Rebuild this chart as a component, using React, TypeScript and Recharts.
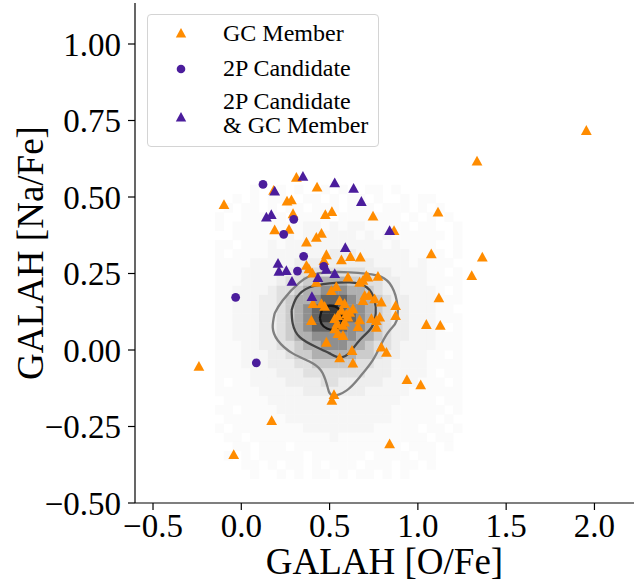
import { ScatterChart, Scatter, XAxis, YAxis } from "recharts";

const W = 635;
const H = 583;
const SERIF = '"Liberation Serif", "Times New Roman", serif';

const X_TICKS = [-0.5, 0, 0.5, 1, 1.5, 2];
const Y_TICKS = [-0.5, -0.25, 0, 0.25, 0.5, 0.75, 1];
const X_DOMAIN: [number, number] = [-0.602, 2.224];
const Y_DOMAIN: [number, number] = [-0.5, 1.134];

const ORANGE = "#ff8c00";
const PURPLE = "#4b1d9c";

// GC members (orange triangles)
const GC_MEMBER: [number, number][] = [
  [-0.098, 0.476], [0.312, 0.565], [0.429, 0.533], [0.183, 0.522], [0.259, 0.487],
  [0.284, 0.491], [0.293, 0.446], [0.476, 0.443], [0.513, 0.453], [0.746, 0.438],
  [0.189, 0.393], [0.27, 0.395], [0.865, 0.391], [0.369, 0.353], [0.425, 0.369],
  [0.454, 0.382], [0.567, 0.295], [0.618, 0.306], [0.674, 0.304], [0.482, 0.312],
  [0.468, 0.293], [0.369, 0.277], [0.383, 0.266], [0.403, 0.252],
  [1.954, 0.718], [1.335, 0.618], [1.114, 0.451], [1.076, 0.315], [1.365, 0.304],
  [1.305, 0.244], [1.119, 0.171], [1.048, 0.084], [1.127, 0.081], [0.938, -0.096],
  [1.016, -0.113], [0.84, -0.306],
  [-0.24, -0.053], [0.525, -0.145], [0.513, -0.164], [0.172, -0.23], [-0.043, -0.341],
  [0.604, 0.239], [0.708, 0.244], [0.717, 0.239], [0.774, 0.241], [0.67, 0.222],
  [0.689, 0.228], [0.425, 0.222], [0.51, 0.195], [0.538, 0.208], [0.406, 0.152],
  [0.454, 0.152], [0.472, 0.143], [0.557, 0.162], [0.585, 0.152], [0.689, 0.162],
  [0.699, 0.179], [0.723, 0.179], [0.755, 0.168], [0.793, 0.157], [0.874, 0.146],
  [0.874, 0.113], [0.784, 0.108], [0.765, 0.097], [0.737, 0.103], [0.632, 0.135],
  [0.614, 0.124], [0.567, 0.13], [0.547, 0.113], [0.595, 0.119], [0.604, 0.108],
  [0.529, 0.103], [0.542, 0.086], [0.585, 0.092], [0.576, 0.081], [0.67, 0.099],
  [0.661, 0.077], [0.765, 0.075], [0.397, 0.097], [0.529, 0.07], [0.547, 0.054],
  [0.576, 0.048], [0.482, 0.026], [0.793, 0.01], [0.822, -0.007], [0.627, -0.001],
  [0.557, -0.025], [0.632, -0.042],
];

// 2P candidates (purple circles)
const CANDIDATE_2P: [number, number][] = [
  [0.123, 0.541], [0.297, 0.427], [0.24, 0.378], [0.353, 0.306],
  [0.318, 0.258], [0.467, 0.273], [-0.032, 0.172], [0.085, -0.042],
];

// 2P candidates that are also GC members (purple triangles)
const CANDIDATE_GC: [number, number][] = [
  [0.349, 0.568], [0.189, 0.52], [0.529, 0.547], [0.636, 0.529], [0.68, 0.486],
  [0.142, 0.435], [0.17, 0.443], [0.84, 0.391], [0.589, 0.335], [0.208, 0.284],
  [0.213, 0.258], [0.255, 0.26], [0.287, 0.225], [0.434, 0.237], [0.482, 0.264],
  [0.529, 0.25], [0.4, 0.175],
];

// background 2D histogram (grey level 0-9 per bin), rows from top to bottom
const HIST_X0 = -0.15;
const HIST_DX = 0.05;
const HIST_Y0 = 0.54;
const HIST_DY = 0.03;
const HIST_ROWS = [
  "0000100101001010011010000000",
  "0010101100110101101001011000",
  "0101101011011101110111010100",
  "1001111101111011111110101010",
  "1011111111221212211111011001",
  "0011111121222222121211111101",
  "1101112122222222222121111001",
  "1011112222222333222222111101",
  "1111222223333333332222121110",
  "1112222334444444433322221101",
  "1112222344556665544332221111",
  "1122223445667776654332222101",
  "1122233456678887665433222111",
  "1122233456789987765433222110",
  "1122233456789998765433222111",
  "1122233456788887765433222101",
  "1122233456677777665433222111",
  "1112233445667776654432222111",
  "1112223345566666554332221101",
  "1112223334455555443322221111",
  "1111222333444444433322221011",
  "1011222233334433333222211101",
  "1111122222333333322222111111",
  "0111112222222222222221111011",
  "1101111222222222222211111101",
  "0111111122222222222211111010",
  "1011111111222222221111101101",
  "0110111111111211111111110110",
  "0011011101111111111110111010",
  "0101011111011111101111011000",
  "0001101011010111011101101000",
  "0000100101011010110101000000",
];

// density contours
const CONTOUR_OUTER: [number, number][] = [
  [0.189, 0.12], [0.234, 0.162], [0.331, 0.221], [0.444, 0.251], [0.614, 0.254],
  [0.767, 0.244], [0.84, 0.218], [0.88, 0.162], [0.88, 0.097], [0.84, 0.064],
  [0.795, 0.022], [0.744, -0.034], [0.67, -0.089], [0.597, -0.132], [0.517, -0.148],
  [0.489, -0.122], [0.461, -0.076], [0.404, -0.043], [0.291, -0.011], [0.206, 0.032],
  [0.178, 0.074], [0.189, 0.12],
];
const CONTOUR_MID: [number, number][] = [
  [0.285, 0.13], [0.314, 0.172], [0.387, 0.205], [0.5, 0.218], [0.614, 0.221],
  [0.71, 0.205], [0.755, 0.162], [0.761, 0.12], [0.738, 0.074], [0.67, 0.032],
  [0.614, -0.008], [0.557, -0.024], [0.5, -0.011], [0.427, 0.009], [0.331, 0.042],
  [0.291, 0.087], [0.285, 0.13],
];
const CONTOUR_INNER: [number, number][] = [
  [0.445, 0.104], [0.46, 0.133], [0.5, 0.144], [0.548, 0.137], [0.572, 0.11],
  [0.563, 0.079], [0.528, 0.066], [0.485, 0.07], [0.455, 0.085], [0.445, 0.104],
];

const GREYS = ["none", "#fbfbfb", "#f6f6f6", "#eeeeee", "#e0e0e0", "#cccccc", "#b0b0b0", "#8f8f8f", "#666666", "#3a3a3a"];

const PLOT_W = W - 1 - 135;
const PLOT_H = H - 3 - 80;
const CELL_W = (HIST_DX * PLOT_W) / (X_DOMAIN[1] - X_DOMAIN[0]);
const CELL_H = (HIST_DY * PLOT_H) / (Y_DOMAIN[1] - Y_DOMAIN[0]);

const histCells: { x: number; y: number; level: number }[] = [];
HIST_ROWS.forEach((row, j) => {
  row.split("").forEach((c, i) => {
    const level = parseInt(c, 10);
    if (level > 0) {
      histCells.push({
        x: HIST_X0 + (i + 0.5) * HIST_DX,
        y: HIST_Y0 - (j + 0.5) * HIST_DY,
        level,
      });
    }
  });
});

const toPts = (arr: [number, number][]) => arr.map(([x, y]) => ({ x, y }));

const HistCell = (p: any) => (
  <rect
    x={p.cx - CELL_W / 2}
    y={p.cy - CELL_H / 2}
    width={CELL_W + 0.4}
    height={CELL_H + 0.4}
    fill={GREYS[p.payload.level]}
  />
);

const triangle = (fill: string) => (p: any) => (
  <polygon
    points={`${p.cx},${p.cy - 5.2} ${p.cx - 5.4},${p.cy + 4.6} ${p.cx + 5.4},${p.cy + 4.6}`}
    fill={fill}
  />
);
const circle = (fill: string) => (p: any) => <circle cx={p.cx} cy={p.cy} r={4.4} fill={fill} />;
const nothing = () => <g />;

const fmtX = (v: number) => (v < 0 ? "\u2212" : "") + Math.abs(v).toFixed(1);
const fmtY = (v: number) => (v < 0 ? "\u2212" : "") + Math.abs(v).toFixed(2);

const tickStyle = { fill: "#000", fontSize: 33, fontFamily: SERIF };
const axisStroke = { stroke: "#000", strokeWidth: 1.2 };

function LegendBox() {
  const text = { position: "absolute" as const, left: 75, lineHeight: "24px", whiteSpace: "nowrap" as const };
  return (
    <div
      style={{
        position: "absolute",
        left: 147,
        top: 14,
        width: 232,
        height: 133,
        boxSizing: "border-box",
        border: "1px solid #d4d4d4",
        borderRadius: 4,
        background: "rgba(255,255,255,0.8)",
        fontFamily: SERIF,
        fontSize: 24,
        color: "#000",
      }}
    >
      <svg width={232} height={133} style={{ position: "absolute", left: -1, top: -1 }}>
        <polygon points="34,14 28.8,23.5 39.2,23.5" fill={ORANGE} />
        <circle cx={34} cy={55} r={4.3} fill={PURPLE} />
        <polygon points="34,98 28.8,107.5 39.2,107.5" fill={PURPLE} />
      </svg>
      <div style={{ ...text, top: 6 }}>GC Member</div>
      <div style={{ ...text, top: 41 }}>2P Candidate</div>
      <div style={{ ...text, top: 74 }}>2P Candidate</div>
      <div style={{ ...text, top: 98 }}>&amp; GC Member</div>
    </div>
  );
}

export default function App() {
  return (
    <div style={{ position: "relative", width: W, height: H, background: "#fff" }}>
      <style>{"body{margin:0}"}</style>
      <ScatterChart width={W} height={H} margin={{ top: 3, right: 1, bottom: 0, left: 0 }}>
        <XAxis
          type="number"
          dataKey="x"
          domain={X_DOMAIN}
          allowDataOverflow
          ticks={X_TICKS}
          interval={0}
          tickFormatter={fmtX}
          height={80}
          tickSize={7}
          tickMargin={4}
          tick={tickStyle}
          axisLine={axisStroke}
          tickLine={axisStroke}
          label={{
            content: (p: any) => (
              <text
                x={p.viewBox.x + p.viewBox.width / 2}
                y={p.viewBox.y + 71}
                textAnchor="middle"
                fontSize={37}
                fontFamily={SERIF}
                fill="#000"
              >
                GALAH [O/Fe]
              </text>
            ),
          }}
        />
        <YAxis
          type="number"
          dataKey="y"
          domain={Y_DOMAIN}
          allowDataOverflow
          ticks={Y_TICKS}
          interval={0}
          tickFormatter={fmtY}
          width={135}
          tickSize={7}
          tickMargin={7}
          tick={tickStyle}
          axisLine={axisStroke}
          tickLine={axisStroke}
          label={{
            content: (p: any) => {
              const cx = p.viewBox.x + 30;
              const cy = p.viewBox.y + p.viewBox.height / 2;
              return (
                <text
                  x={cx}
                  y={cy}
                  transform={`rotate(-90, ${cx}, ${cy})`}
                  textAnchor="middle"
                  dominantBaseline="central"
                  fontSize={37}
                  fontFamily={SERIF}
                  fill="#000"
                >
                  GALAH [Na/Fe]
                </text>
              );
            },
          }}
        />
        <XAxis
          xAxisId="top"
          orientation="top"
          type="number"
          domain={X_DOMAIN}
          allowDataOverflow
          height={0}
          tick={false}
          tickLine={false}
          axisLine={axisStroke}
        />
        <YAxis
          yAxisId="right"
          orientation="right"
          type="number"
          domain={Y_DOMAIN}
          allowDataOverflow
          width={0}
          tick={false}
          tickLine={false}
          axisLine={axisStroke}
        />
        <Scatter data={histCells} shape={HistCell} isAnimationActive={false} />
        <Scatter
          data={toPts(CONTOUR_OUTER)}
          shape={nothing}
          line={{ stroke: "#808080", strokeWidth: 2.3 }}
          lineJointType="natural"
          isAnimationActive={false}
        />
        <Scatter
          data={toPts(CONTOUR_MID)}
          shape={nothing}
          line={{ stroke: "#454545", strokeWidth: 2.3 }}
          lineJointType="natural"
          isAnimationActive={false}
        />
        <Scatter
          data={toPts(CONTOUR_INNER)}
          shape={nothing}
          line={{ stroke: "#151515", strokeWidth: 2.3 }}
          lineJointType="natural"
          isAnimationActive={false}
        />
        <Scatter data={toPts(GC_MEMBER)} shape={triangle(ORANGE)} isAnimationActive={false} />
        <Scatter data={toPts(CANDIDATE_2P)} shape={circle(PURPLE)} isAnimationActive={false} />
        <Scatter data={toPts(CANDIDATE_GC)} shape={triangle(PURPLE)} isAnimationActive={false} />
      </ScatterChart>
      <LegendBox />
    </div>
  );
}
